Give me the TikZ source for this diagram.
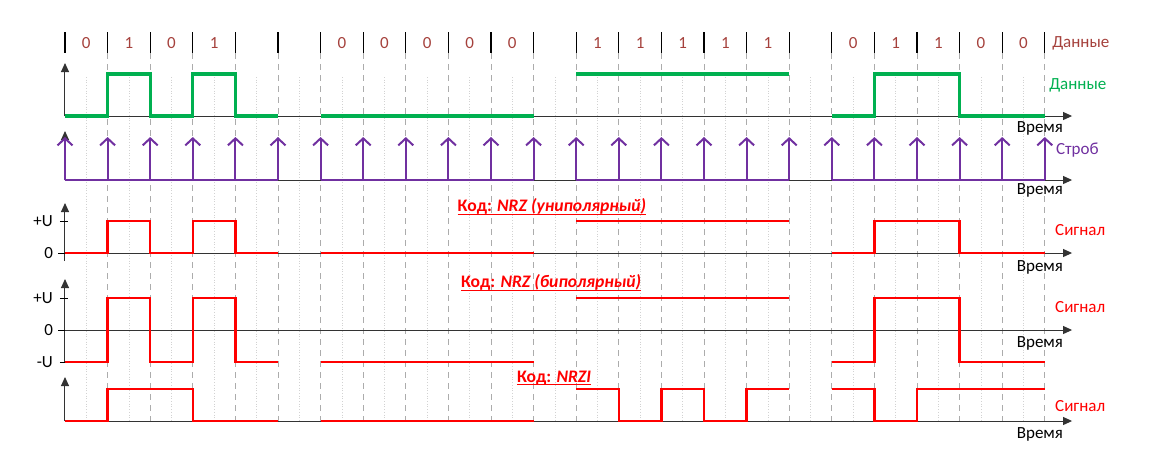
\documentclass[tikz,border=0pt]{standalone}
\usepackage{fontspec}
\setmainfont{Carlito}
\usetikzlibrary{arrows.meta}
\definecolor{datagreen}{RGB}{0,176,80}
\definecolor{strobeviolet}{RGB}{112,48,160}
\definecolor{bitbrown}{RGB}{165,65,60}
\definecolor{sigred}{RGB}{255,0,0}
\newcommand{\codeul}[1]{\setbox0\hbox{#1}\rlap{\rule[-3.2pt]{\wd0}{1.6pt}}\box0}
\begin{document}
\begin{tikzpicture}
[
	x=42.6pt, y=-1pt,
	txt/.style={inner sep=0pt,font=\fontsize{17}{20}\selectfont},
	bitlbl/.style={txt,text=bitbrown},
	timelbl/.style={txt,anchor=east},
	siglbl/.style={txt,anchor=west,text=sigred},
	codelbl/.style={inner sep=0pt,text=sigred,font=\fontsize{17.6}{20}\selectfont\bfseries},
	axis/.style={line width=1pt,black!80,-{Triangle[length=9pt,width=8pt]}},
	major/.style={gray!65,line width=0.9pt,dash pattern=on 6pt off 5pt},
	minor/.style={gray!35,line width=0.7pt,dotted},
	datawave/.style={datagreen,line width=3.2pt},
	sigwave/.style={sigred,line width=2.4pt},
	strobeline/.style={strobeviolet,line width=2pt},
	strobetip/.style={strobeline,-{Straight Barb[length=7pt,width=15pt]}}
]

	\useasboundingbox (-1.5258,0) rectangle (25.5399,475);

	% grid
	\foreach \i in {0,...,22} \draw[minor] (\i+0.5,77) -- (\i+0.5,421);
	\foreach \i in {1,...,23} \draw[major] (\i,53) -- (\i,421);
	\foreach \i in {0,...,23} \draw[line width=1.3pt] (\i,32) -- (\i,53);

	% bits
	\foreach \b [count=\k from 0] in {0,1,0,1} \node[bitlbl] at (\k+0.5,43) (bitA\k) {\b};
	\foreach \k in {6,...,10} \node[bitlbl] at (\k+0.5,43) (bitB\k) {0};
	\foreach \k in {12,...,16} \node[bitlbl] at (\k+0.5,43) (bitC\k) {1};
	\foreach \b [count=\k from 18] in {0,1,1,0,0} \node[bitlbl] at (\k+0.5,43) (bitD\k) {\b};
	\node[bitlbl,anchor=west] at (23.17,43) (bithead) {Данные};

	% axes
	\draw[axis] (0,116) -- (23.64,116);
	\draw[axis] (0,116) -- (0,63);
	\draw[axis] (0,180) -- (23.64,180);
	\draw[axis] (0,180) -- (0,131);
	\draw[axis] (0,253) -- (23.64,253);
	\draw[axis] (0,261) -- (0,203);
	\draw[axis] (0,330) -- (23.64,330);
	\draw[axis] (0,362) -- (0,279);
	\draw[axis] (0,421) -- (23.64,421);
	\draw[axis] (0,421) -- (0,377);

	\node[timelbl] at (23.43,128) (timedata) {Время};
	\node[timelbl] at (23.43,190) (timestrobe) {Время};
	\node[timelbl] at (23.43,267) (timeuni) {Время};
	\node[timelbl] at (23.43,343) (timebi) {Время};
	\node[timelbl] at (23.43,434) (timenrzi) {Время};

	% levels
	\draw[line width=1pt] (-0.12,221) -- (0.08,221);
	\draw[line width=1pt] (-0.16,253) -- (0,253);
	\draw[line width=1pt] (-0.12,298) -- (0.08,298);
	\draw[line width=1pt] (-0.16,330) -- (0,330);
	\draw[line width=1pt] (-0.12,362) -- (0.08,362);
	\node[txt,anchor=east] at (-0.28,221) (uniplus) {+U};
	\node[txt,anchor=east] at (-0.28,253) (unizero) {0};
	\node[txt,anchor=east] at (-0.28,298) (biplus) {+U};
	\node[txt,anchor=east] at (-0.28,330) (bizero) {0};
	\node[txt,anchor=east] at (-0.28,362) (biminus) {-U};

	% data
	\draw[datawave] (0,116) -- (1,116) -- (1,74) -- (2,74) -- (2,116) -- (3,116) -- (3,74) -- (4,74) -- (4,116) -- (5,116);
	\draw[datawave] (6,116) -- (11,116);
	\draw[datawave] (12,74) -- (17,74);
	\draw[datawave] (18,116) -- (19,116) -- (19,74) -- (21,74) -- (21,116) -- (23,116);
	\node[txt,anchor=west,text=datagreen] at (23.1,85) (datalbl) {Данные};

	% strobe
	\foreach \s in {0,6,12,18} \draw[strobeline] (\s,180) -- (\s+5,180);
	\foreach \i in {0,...,23} \draw[strobetip] (\i,180) -- (\i,137);
	\node[txt,anchor=west,text=strobeviolet] at (23.26,150) (strobelbl) {Строб};

	% NRZ unipolar
	\draw[sigwave] (0,253) -- (1,253) -- (1,221) -- (2,221) -- (2,253) -- (3,253) -- (3,221) -- (4,221) -- (4,253) -- (5,253);
	\draw[sigwave] (6,253) -- (11,253);
	\draw[sigwave] (12,221) -- (17,221);
	\draw[sigwave] (18,253) -- (19,253) -- (19,221) -- (21,221) -- (21,253) -- (23,253);
	\node[codelbl] at (11.43,207) (unititle) {\codeul{Код: \textit{NRZ (униполярный)}}};
	\node[siglbl] at (23.24,230) (unisig) {Сигнал};

	% NRZ bipolar
	\draw[sigwave] (0,362) -- (1,362) -- (1,298) -- (2,298) -- (2,362) -- (3,362) -- (3,298) -- (4,298) -- (4,362) -- (5,362);
	\draw[sigwave] (6,362) -- (11,362);
	\draw[sigwave] (12,298) -- (17,298);
	\draw[sigwave] (18,362) -- (19,362) -- (19,298) -- (21,298) -- (21,362) -- (23,362);
	\node[codelbl] at (11.41,283) (bititle) {\codeul{Код: \textit{NRZ (биполярный)}}};
	\node[siglbl] at (23.24,307) (bisig) {Сигнал};

	% NRZI
	\draw[sigwave] (0,421) -- (1,421) -- (1,389) -- (3,389) -- (3,421) -- (5,421);
	\draw[sigwave] (6,421) -- (11,421);
	\draw[sigwave] (12,389) -- (13,389) -- (13,421) -- (14,421) -- (14,389) -- (15,389) -- (15,421) -- (16,421) -- (16,389) -- (17,389);
	\draw[sigwave] (18,389) -- (19,389) -- (19,421) -- (20,421) -- (20,389) -- (23,389);
	\node[codelbl] at (11.48,378) (nrzititle) {\codeul{Код: \textit{NRZI}}};
	\node[siglbl] at (23.24,406) (nrzisig) {Сигнал};

\end{tikzpicture}
\end{document}
